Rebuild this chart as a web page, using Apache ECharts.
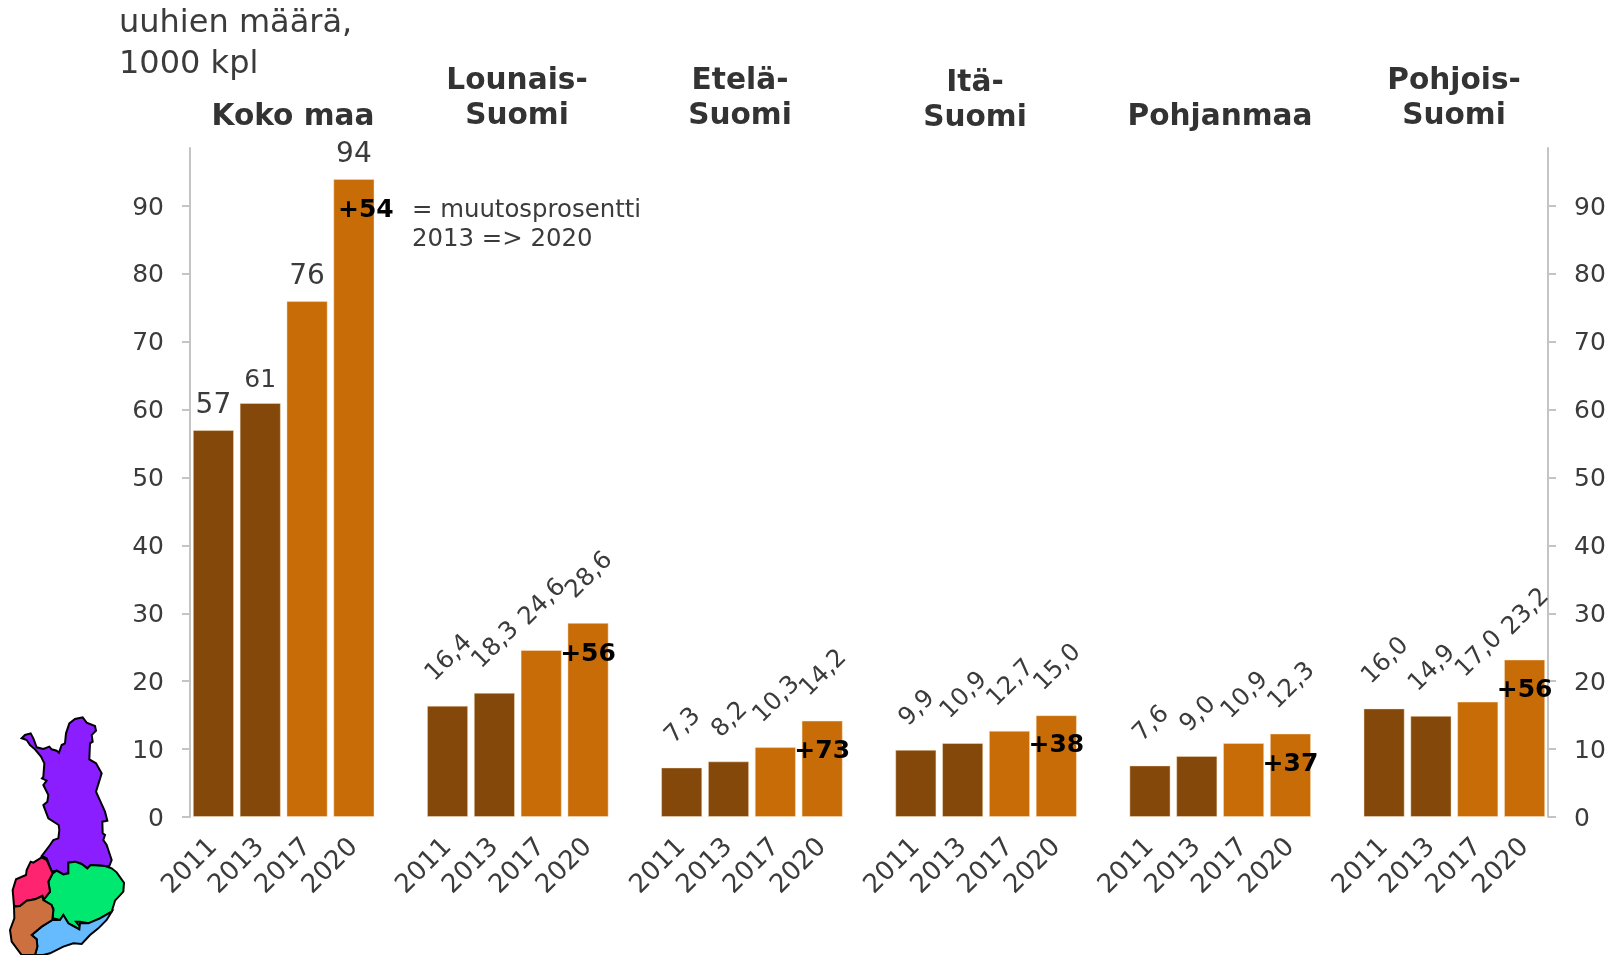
<!DOCTYPE html>
<html>
<head>
<meta charset="utf-8">
<title>uuhien määrä</title>
<script src="https://cdn.jsdelivr.net/npm/echarts@6/dist/echarts.min.js"></script>
<style>
  html, body { margin: 0; padding: 0; background: #fff; }
  #chart { width: 1616px; height: 955px; }
</style>
</head>
<body>
<div id="chart"></div>
<script>
const years = ["2011", "2013", "2017", "2020"];
const kokoMaa = [57, 61, 76, 94];
const lounaisSuomi = [16.4, 18.3, 24.6, 28.6];
const etelaSuomi = [7.3, 8.2, 10.3, 14.2];
const itaSuomi = [9.9, 10.9, 12.7, 15.0];
const pohjanmaa = [7.6, 9.0, 10.9, 12.3];
const pohjoisSuomi = [16.0, 14.9, 17.0, 23.2];
const changeLabels = ["+54", "+56", "+73", "+38", "+37", "+56"];
const changeLevels = [89.7, 24.3, 10, 10.8, 8, 19];
const yTicks = [0, 10, 20, 30, 40, 50, 60, 70, 80, 90];

const regions = [kokoMaa, lounaisSuomi, etelaSuomi, itaSuomi, pohjanmaa, pohjoisSuomi];
const DARK = "#84480A";
const ORANGE = "#C76C07";
const TEXT = "#3B3B3B";
const FONT = '"DejaVu Sans", Verdana, sans-serif';

// one category axis, with an empty slot between the regions
const categories = [];
const barData = [];
const changeData = [];
regions.forEach((values, r) => {
  values.forEach((v, i) => {
    categories.push(years[i]);
    const text = r === 0 ? String(v) : v.toFixed(1).replace(".", ",");
    barData.push({
      value: v,
      itemStyle: { color: i < 2 ? DARK : ORANGE },
      label: r === 0
        ? { formatter: text, distance: 10, fontSize: v === 61 ? 25 : 28 }
        : { formatter: text, rotate: 45, verticalAlign: "middle", align: "center", offset: [2, 0], distance: text.length > 3 ? 46 : 40 },
    });
  });
  changeData.push({
    value: [categories.length - 1, changeLevels[r]],
    label: { formatter: changeLabels[r], offset: [r === 0 ? 12 : 0, 2] },
  });
  if (r < regions.length - 1) {
    categories.push("");
    barData.push(null);
  }
});

const valueAxis = (position) => ({
  type: "value",
  position: position,
  min: 0,
  max: 98.55,
  interval: 10,
  splitLine: { show: false },
  axisLine: { show: true, lineStyle: { color: "#C4C4C4", width: 2 } },
  axisTick: { show: true, length: 8, customValues: yTicks, lineStyle: { color: "#C4C4C4", width: 2 } },
  axisLabel: {
    customValues: yTicks,
    margin: 26,
    formatter: "{n|{value}}",
    rich: { n: { color: TEXT, fontSize: 25, fontFamily: FONT, padding: [4, 0, 0, 0] } },
  },
});

// Finland outline, in a 3x local space
const mapRegions = [
  { fill: "#8B1EFF", points: [[125,498],[150,465],[160,450],[175,445],[178,420],[176,405],[145,385],[130,345],[142,335],[145,315],[130,285],[140,272],[126,265],[130,260],[133,220],[123,200],[105,178],[90,165],[80,150],[72,147],[65,145],[75,135],[92,130],[100,145],[110,172],[130,177],[148,170],[155,178],[170,182],[177,188],[185,165],[195,160],[198,130],[208,100],[225,87],[248,82],[260,98],[285,108],[288,122],[275,135],[278,155],[270,160],[268,208],[288,220],[305,250],[288,305],[315,365],[322,392],[307,395],[308,430],[315,435],[310,450],[320,465],[325,480],[335,510],[328,528],[315,528],[272,525],[262,535],[245,522],[225,515],[205,518],[205,550],[190,553],[170,542],[155,545],[140,505]] },
  { fill: "#00E86F", points: [[205,518],[225,515],[245,522],[262,535],[272,525],[315,528],[335,535],[350,547],[372,578],[370,605],[345,632],[335,665],[300,685],[265,700],[240,695],[228,695],[240,710],[238,718],[220,708],[205,700],[190,675],[180,690],[158,685],[160,655],[145,640],[130,630],[150,605],[145,575],[158,550],[170,542],[190,553],[205,550]] },
  { fill: "#FF2470", points: [[125,502],[140,510],[158,550],[145,575],[150,605],[130,630],[127,618],[105,628],[80,632],[60,648],[42,648],[38,600],[48,568],[78,555],[80,540],[92,515],[100,518]] },
  { fill: "#66BBFF", points: [[157,690],[180,690],[190,675],[205,700],[220,708],[238,718],[240,700],[265,700],[300,685],[335,665],[320,690],[295,715],[270,735],[245,762],[220,760],[190,770],[150,790],[130,795],[105,795],[112,770],[110,748],[95,735],[125,710]] },
  { fill: "#CC7040", points: [[42,650],[60,648],[80,632],[105,628],[127,618],[130,630],[155,645],[160,660],[157,690],[125,710],[95,735],[110,748],[112,770],[105,795],[65,795],[35,755],[30,720],[43,685]] },
];

const groupTitles = [
  { text: "Koko maa", x: 293, y: 117 },
  { text: "Lounais-\nSuomi", x: 517, y: 99 },
  { text: "Etelä-\nSuomi", x: 740, y: 99 },
  { text: "Itä-\nSuomi", x: 975, y: 101 },
  { text: "Pohjanmaa", x: 1220, y: 117 },
  { text: "Pohjois-\nSuomi", x: 1454, y: 99 },
];

const graphics = groupTitles.map((t) => ({
  type: "text",
  x: t.x,
  y: t.y,
  style: { text: t.text, fontFamily: FONT, fontWeight: "bold", fontSize: 29.6, fill: "#333333", align: "center", verticalAlign: "middle", lineHeight: 35 },
}));
graphics.push({
  type: "text",
  x: 119,
  y: 44,
  style: { text: "uuhien määrä,\n1000 kpl", fontFamily: FONT, fontSize: 32, fill: TEXT, align: "left", verticalAlign: "middle", lineHeight: 41 },
});
graphics.push({
  type: "text",
  x: 412,
  y: 225,
  style: { text: "= muutosprosentti\n2013 => 2020", fontFamily: FONT, fontSize: 24.4, fill: TEXT, align: "left", verticalAlign: "middle", lineHeight: 29 },
});
graphics.push({
  type: "group",
  x: 0,
  y: 690,
  scaleX: 1 / 3,
  scaleY: 1 / 3,
  children: mapRegions.map((m) => ({
    type: "polygon",
    shape: { points: m.points },
    style: { fill: m.fill, stroke: "#000", lineWidth: 6 },
  })),
});

const chart = echarts.init(document.getElementById("chart"));
chart.setOption({
  animation: false,
  backgroundColor: "#fff",
  grid: { left: 190, right: 68, top: 148, bottom: 138 },
  xAxis: {
    type: "category",
    data: categories,
    axisLine: { show: false },
    axisTick: { show: false },
    axisLabel: { interval: 0, rotate: 45, color: TEXT, fontSize: 26, fontFamily: FONT, margin: 26, padding: [3, 0, 0, 0] },
  },
  yAxis: [valueAxis("left"), valueAxis("right")],
  series: [
    {
      type: "bar",
      data: barData,
      barWidth: "88%",
      itemStyle: { borderColor: "rgba(255,230,200,0.45)", borderWidth: 1 },
      label: { show: true, position: "top", color: TEXT, fontSize: 24.5, fontFamily: FONT },
    },
    {
      type: "scatter",
      data: changeData,
      symbolSize: 1,
      itemStyle: { color: "rgba(0,0,0,0)", opacity: 1 },
      z: 5,
      label: { show: true, position: "inside", color: "#000", textBorderWidth: 0, fontSize: 25, fontWeight: "bold", fontFamily: FONT },
    },
  ],
  graphic: graphics,
});
</script>
</body>
</html>
